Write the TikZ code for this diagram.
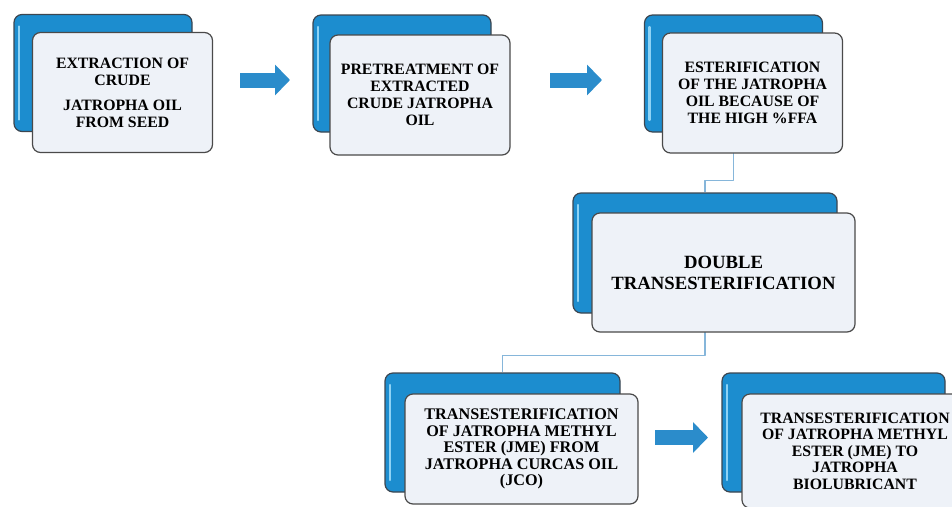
\documentclass[tikz,border=0pt]{standalone}
\usepackage{fontspec}
\setmainfont{Liberation Serif}
\usetikzlibrary{arrows.meta}

\definecolor{stageblue}{HTML}{1C8DCF}
\definecolor{stageshine}{HTML}{8FD3F5}
\definecolor{stageedge}{HTML}{3C4650}
\definecolor{cardfill}{HTML}{EEF2F8}
\definecolor{cardedge}{HTML}{4A4A4A}
\definecolor{flowblue}{HTML}{2B8CCB}
\definecolor{linkblue}{HTML}{86B6DA}

\begin{document}
\begin{tikzpicture}[
  x=1pt,
  y=-1pt,
  line join=round,
  backbox/.style={draw=stageedge,fill=stageblue,line width=1.2pt,rounded corners=8pt,
    minimum width=178pt,minimum height=117pt,inner sep=0pt,
    path picture={\draw[stageshine,line width=2.2pt,line cap=round]
      ([xshift=5pt,yshift=-12pt]path picture bounding box.north west) --
      ([xshift=5pt,yshift=12pt]path picture bounding box.south west);}},
  frontbox/.style={draw=cardedge,fill=cardfill,line width=1.2pt,rounded corners=8pt,
    minimum width=180pt,minimum height=120pt,inner sep=2pt,align=center,
    font=\bfseries\fontsize{15.8}{17}\selectfont},
  flow/.style={draw=flowblue,line width=15pt,-{Triangle[length=15pt,width=30pt]}},
  link/.style={draw=linkblue,line width=1.6pt}
]
  % Keep the frame of the original figure; the last card runs past the right edge.
  \useasboundingbox (0,0) rectangle (952,506);
  \clip (0,0) rectangle (952,506);

  % Blue back cards of every stage.
  \node[backbox] (back1) at (103,73) {};
  \node[backbox] (back2) at (402,73.5) {};
  \node[backbox] (back3) at (733.5,73.5) {};
  \node[backbox,minimum width=264pt,minimum height=120pt] (back4) at (705,253) {};
  \node[backbox,minimum width=235pt,minimum height=119pt] (back5) at (502.5,432.5) {};
  \node[backbox,minimum width=223pt,minimum height=119pt] (back6) at (833.5,432.5) {};

  % Thin elbow links between the back cards.
  \draw[link] (back3.south) -- ++(0,48) -| (back4.north);
  \draw[link] (back4.south) -- ++(0,42) -| (back5.north);

  % White front cards carry the stage texts.
  \node[frontbox] (front1) at (122.5,92.5)
    {EXTRACTION OF\\ CRUDE\\[8pt] JATROPHA OIL\\ FROM SEED};
  \node[frontbox] (front2) at (420,95)
    {PRETREATMENT OF\\ EXTRACTED\\ CRUDE JATROPHA\\ OIL};
  \node[frontbox] (front3) at (752.5,93)
    {ESTERIFICATION\\ OF THE JATROPHA\\ OIL BECAUSE OF\\ THE HIGH \%FFA};
  \node[frontbox,minimum width=263pt,minimum height=119pt,
    font=\bfseries\fontsize{18.7}{21}\selectfont] (front4) at (723.5,272.5)
    {DOUBLE\\ TRANSESTERIFICATION};
  \node[frontbox,minimum width=233pt,minimum height=110pt,
    font=\bfseries\fontsize{16.2}{16.5}\selectfont] (front5) at (521.5,449)
    {TRANSESTERIFICATION\\ OF JATROPHA METHYL\\ ESTER (JME) FROM\\ JATROPHA CURCAS OIL\\ (JCO)};
  \node[frontbox,minimum width=226pt,minimum height=114pt,
    font=\bfseries\fontsize{15.8}{16.5}\selectfont] (front6) at (855,451)
    {TRANSESTERIFICATION\\ OF JATROPHA METHYL\\ ESTER (JME) TO\\ JATROPHA\\ BIOLUBRICANT};

  % Block arrows between the stages.
  \coordinate (arr1s) at (240,80);
  \coordinate (arr1e) at (290,80);
  \coordinate (arr2s) at (550,80);
  \coordinate (arr2e) at (602,80);
  \coordinate (arr3s) at (655,437.5);
  \coordinate (arr3e) at (708,437.5);
  \draw[flow] (arr1s) -- (arr1e);
  \draw[flow] (arr2s) -- (arr2e);
  \draw[flow] (arr3s) -- (arr3e);
\end{tikzpicture}
\end{document}
